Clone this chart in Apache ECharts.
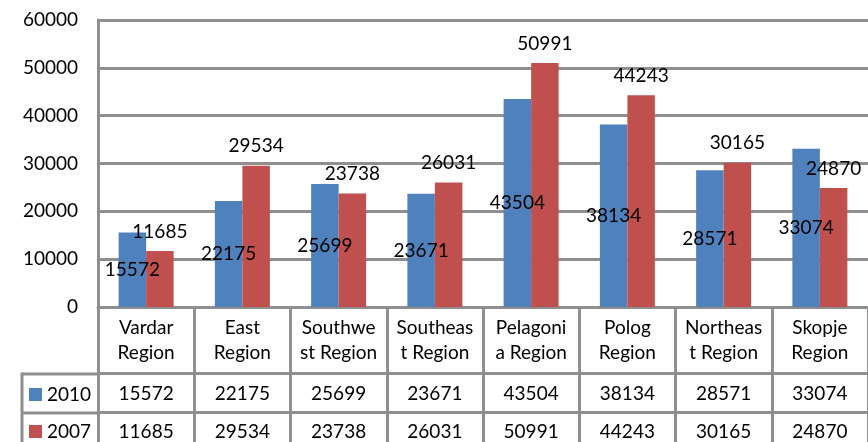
<!DOCTYPE html>
<html>
<head>
<meta charset="utf-8">
<script src="https://cdn.jsdelivr.net/npm/echarts@6/dist/echarts.min.js"></script>
<style>
html,body{margin:0;padding:0;background:#fff;}
#chart{width:868px;height:442px;}
</style>
</head>
<body>
<div id="chart"></div>
<script>
var categories = ['Vardar Region','East Region','Southwest Region','Southeast Region','Pelagonia Region','Polog Region','Northeast Region','Skopje Region'];
var categoryLabels = ['Vardar\nRegion','East\nRegion','Southwe\nst Region','Southeas\nt Region','Pelagoni\na Region','Polog\nRegion','Northeas\nt Region','Skopje\nRegion'];
var seriesNames = ['2010','2007'];
var values2010 = [15572,22175,25699,23671,43504,38134,28571,33074];
var values2007 = [11685,29534,23738,26031,50991,44243,30165,24870];
var yTicks = [0,10000,20000,30000,40000,50000,60000];

var FONT = 'Lato';
var LINE = '#8f8f8f';
var chart = echarts.init(document.getElementById('chart'));

function tableAxis(data, offset, tickLen, margin, lh, fmt) {
  return {
    type: 'category', data: data, gridIndex: 0, position: 'bottom', offset: offset,
    axisLine: {show: true, lineStyle: {color: LINE, width: 3}},
    axisTick: {show: true, length: tickLen, lineStyle: {color: LINE, width: 3}},
    axisLabel: {show: true, interval: 0, margin: margin, color: '#000', fontFamily: FONT, fontSize: 19, lineHeight: lh, formatter: fmt},
    splitLine: {show: false}
  };
}

var option = {
  animation: false,
  textStyle: {fontFamily: FONT},
  grid: {left: 98, top: 20, width: 772, height: 288, containLabel: false},
  legend: {
    data: seriesNames, orient: 'vertical', left: 29, top: 385, height: 80, padding: 0,
    icon: 'rect', itemWidth: 13, itemHeight: 13, itemGap: 18,
    textStyle: {color: '#000', fontFamily: FONT, fontSize: 19}
  },
  xAxis: [
    tableAxis(categories, 0, 66, 8, 25, function (v, i) { return categoryLabels[i]; }),
    tableAxis(values2010.map(String), 66, 39, 11, 20),
    tableAxis(values2007.map(String), 105, 45, 10, 20)
  ],
  yAxis: {
    type: 'value', min: yTicks[0], max: yTicks[yTicks.length - 1], interval: yTicks[1] - yTicks[0],
    axisLine: {show: true, lineStyle: {color: LINE, width: 3}},
    axisTick: {show: false},
    axisLabel: {color: '#000', fontFamily: FONT, fontSize: 19, margin: 20, formatter: function (v) { return String(v); }},
    splitLine: {show: true, lineStyle: {color: LINE, width: 3}}
  },
  series: [
    {
      name: seriesNames[0], type: 'bar', data: values2010, xAxisIndex: 0,
      barWidth: 27.5, barGap: '0%',
      itemStyle: {color: '#4F81BD'},
      label: {show: true, position: 'inside', color: '#000', fontFamily: FONT, fontSize: 19}
    },
    {
      name: seriesNames[1], type: 'bar', data: values2007, xAxisIndex: 0,
      barWidth: 27.5, barGap: '0%',
      itemStyle: {color: '#C0504D'},
      label: {show: true, position: 'top', distance: 10, color: '#000', fontFamily: FONT, fontSize: 19}
    }
  ],
  graphic: [
    {type: 'line', shape: {x1: 22, y1: 374, x2: 98, y2: 374}, style: {stroke: LINE, lineWidth: 3}},
    {type: 'line', shape: {x1: 22, y1: 413, x2: 98, y2: 413}, style: {stroke: LINE, lineWidth: 3}},
    {type: 'line', shape: {x1: 22, y1: 372.5, x2: 22, y2: 450}, style: {stroke: LINE, lineWidth: 3}}
  ]
};
chart.setOption(option);
</script>
</body>
</html>
